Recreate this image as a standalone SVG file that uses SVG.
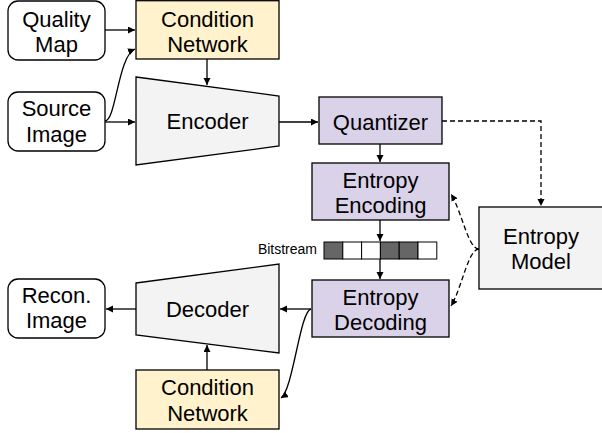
<svg xmlns="http://www.w3.org/2000/svg" width="602" height="433" viewBox="0 0 602 433">
<style>
  .t { font-family: "Liberation Sans", Arial, sans-serif; font-size: 22px; fill: #000; text-anchor: middle; }
  .small { font-family: "Liberation Sans", Arial, sans-serif; font-size: 14px; fill: #000; text-anchor: end; }
  .io { fill: #fff; stroke: #000; stroke-width: 1.3; }
  .cond { fill: #fff2cc; stroke: #000; stroke-width: 1.3; }
  .coder { fill: #f3f3f3; stroke: #000; stroke-width: 1.3; }
  .purple { fill: #d9d2e9; stroke: #000; stroke-width: 1.3; }
  .grey { fill: #f3f3f3; stroke: #000; stroke-width: 1.3; }
  .c { fill: none; stroke: #000; stroke-width: 1.3; marker-end: url(#ah); }
  .d { fill: none; stroke: #000; stroke-width: 1.3; stroke-dasharray: 5 3; marker-end: url(#ah); }
  .bd { fill: #666; stroke: #000; stroke-width: 1; }
  .bw { fill: #fff; stroke: #000; stroke-width: 1; }
</style>
<defs>
  <marker id="ah" markerUnits="userSpaceOnUse" markerWidth="10" markerHeight="10" refX="7" refY="3.5" orient="auto">
    <path d="M0,0 L7,3.5 L0,7 Z" fill="#000"/>
  </marker>
</defs>
<rect width="602" height="433" fill="#fff"/>

<g id="quality-map">
  <rect class="io" x="8" y="1" width="97" height="59" rx="10"/>
  <text class="t" x="56.5" y="27">Quality</text>
  <text class="t" x="56.5" y="52">Map</text>
</g>
<g id="condition-network-top">
  <rect class="cond" x="136" y="0.7" width="143" height="58.3"/>
  <text class="t" x="207.5" y="27">Condition</text>
  <text class="t" x="207.5" y="52">Network</text>
</g>
<g id="source-image">
  <rect class="io" x="8" y="92" width="97" height="59" rx="10"/>
  <text class="t" x="56.5" y="116">Source</text>
  <text class="t" x="56.5" y="142">Image</text>
</g>
<g id="encoder">
  <path class="coder" d="M136,77 L279,96 L279,146 L136,165 Z"/>
  <text class="t" x="207.5" y="129">Encoder</text>
</g>
<g id="quantizer">
  <rect class="purple" x="319" y="97" width="123" height="47"/>
  <text class="t" x="380.5" y="130">Quantizer</text>
</g>
<g id="entropy-encoding">
  <rect class="purple" x="312" y="163" width="137" height="57"/>
  <text class="t" x="380.5" y="188">Entropy</text>
  <text class="t" x="380.5" y="213">Encoding</text>
</g>
<g id="entropy-model">
  <rect class="grey" x="479" y="207" width="130" height="82"/>
  <text class="t" x="541" y="244">Entropy</text>
  <text class="t" x="541" y="269">Model</text>
</g>
<g id="bitstream">
  <text class="small" x="317" y="254">Bitstream</text>
  <rect class="bd" x="324" y="242" width="18.8" height="17"/>
  <rect class="bw" x="342.8" y="242" width="18.8" height="17"/>
  <rect class="bw" x="361.6" y="242" width="18.8" height="17"/>
  <rect class="bd" x="380.4" y="242" width="18.8" height="17"/>
  <rect class="bd" x="399.2" y="242" width="18.8" height="17"/>
  <rect class="bw" x="418" y="242" width="18.8" height="17"/>
</g>
<g id="entropy-decoding">
  <rect class="purple" x="312" y="280" width="137" height="57"/>
  <text class="t" x="380.5" y="305">Entropy</text>
  <text class="t" x="380.5" y="330">Decoding</text>
</g>
<g id="decoder">
  <path class="coder" d="M136,283 L279,264 L279,353 L136,335 Z"/>
  <text class="t" x="207.5" y="317">Decoder</text>
</g>
<g id="recon-image">
  <rect class="io" x="8" y="279" width="97" height="59" rx="10"/>
  <text class="t" x="56.5" y="303">Recon.</text>
  <text class="t" x="56.5" y="328">Image</text>
</g>
<g id="condition-network-bottom">
  <rect class="cond" x="136" y="370" width="143" height="59"/>
  <text class="t" x="207.5" y="395">Condition</text>
  <text class="t" x="207.5" y="421">Network</text>
</g>

<g id="connectors">
  <path class="c" d="M105,30 H135"/>
  <path class="c" d="M105,121 C116,121 118,56 135,49"/>
  <path class="c" d="M105,122 H135"/>
  <path class="c" d="M207,59 V85"/>
  <path class="c" d="M279,122 H318"/>
  <path class="d" d="M442,121 H541 V206"/>
  <path class="c" d="M380,144 V162"/>
  <path class="c" d="M380,220 V241"/>
  <path class="c" d="M380,259 V279"/>
  <path class="d" d="M479,249 C468,249 462,212 451,194"/>
  <path class="d" d="M479,249 C468,249 462,288 451,306"/>
  <path class="c" d="M311,309 H280"/>
  <path class="c" d="M136,309 H106"/>
  <path class="c" d="M207,370 V345"/>
  <path class="c" d="M311,309 C300,311 293,390 281,398"/>
</g>
</svg>
